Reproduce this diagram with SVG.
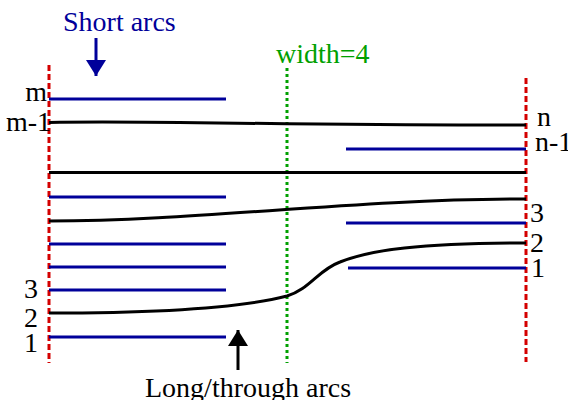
<svg xmlns="http://www.w3.org/2000/svg" width="568" height="400" viewBox="0 0 568 400">
<style>
text{font-family:"Liberation Serif","Times New Roman",serif;font-size:28px;fill:#000}
.blue{stroke:#00009a;stroke-width:3;fill:none}
.blk{stroke:#000;stroke-width:3;fill:none}
.red{stroke:#d40000;stroke-width:3;stroke-dasharray:6,3;fill:none}
.grn{stroke:#00a000;stroke-width:3;stroke-dasharray:3,3;fill:none}
</style>
<defs>
<marker id="ab" markerWidth="20" markerHeight="20" refX="16" refY="10" orient="auto" markerUnits="userSpaceOnUse"><path d="M0,0 L16,10 L0,20 Z" fill="#00009a"/></marker>
<marker id="ak" markerWidth="20" markerHeight="20" refX="16" refY="10" orient="auto" markerUnits="userSpaceOnUse"><path d="M0,0 L16,10 L0,20 Z" fill="#000"/></marker>
</defs>
<g id="boundaries">
<line class="red" x1="49" y1="65" x2="49" y2="363"/>
<line class="red" x1="526" y1="78" x2="526" y2="362"/>
<line class="grn" x1="287" y1="68" x2="287" y2="363"/>
</g>
<g id="connectors">
<line class="blue" x1="49" y1="99" x2="226" y2="99"/>
<line class="blue" x1="49" y1="197" x2="226" y2="197"/>
<line class="blue" x1="49" y1="244" x2="226" y2="244"/>
<line class="blue" x1="49" y1="267" x2="226" y2="267"/>
<line class="blue" x1="49" y1="290" x2="226" y2="290"/>
<line class="blue" x1="49" y1="337" x2="226" y2="337"/>
<line class="blue" x1="346" y1="149" x2="526" y2="149"/>
<line class="blue" x1="346" y1="223" x2="526" y2="223"/>
<line class="blue" x1="348" y1="268" x2="526" y2="268"/>
<path class="blk" d="M49,122.5 C150,120 300,126 526,125"/>
<line class="blk" x1="49" y1="172.5" x2="526" y2="172.5"/>
<path class="blk" d="M49,221 C200,221 350,199 526,199"/>
<path class="blk" d="M49,313 C160,313 240,308 287,296 C310,289 318,270 340,262 C370,250 420,243 526,243"/>
<line stroke="#00009a" stroke-width="3" x1="96" y1="38" x2="96" y2="76" marker-end="url(#ab)"/>
<line stroke="#000" stroke-width="3" x1="238" y1="370" x2="238" y2="330" marker-end="url(#ak)"/>
</g>
<g id="labels">
<text x="63" y="31" style="fill:#00009a">Short arcs</text>
<text x="276" y="63" style="fill:#00a000">width=4</text>
<text x="145" y="397">Long/through arcs</text>
<text x="47" y="101" text-anchor="end">m</text>
<text x="51" y="131" text-anchor="end">m-1</text>
<text x="38" y="298" text-anchor="end">3</text>
<text x="38" y="327" text-anchor="end">2</text>
<text x="38" y="352" text-anchor="end">1</text>
<text x="537" y="126">n</text>
<text x="535" y="151">n-1</text>
<text x="530" y="222">3</text>
<text x="530" y="252">2</text>
<text x="531" y="277">1</text>
</g>
</svg>
